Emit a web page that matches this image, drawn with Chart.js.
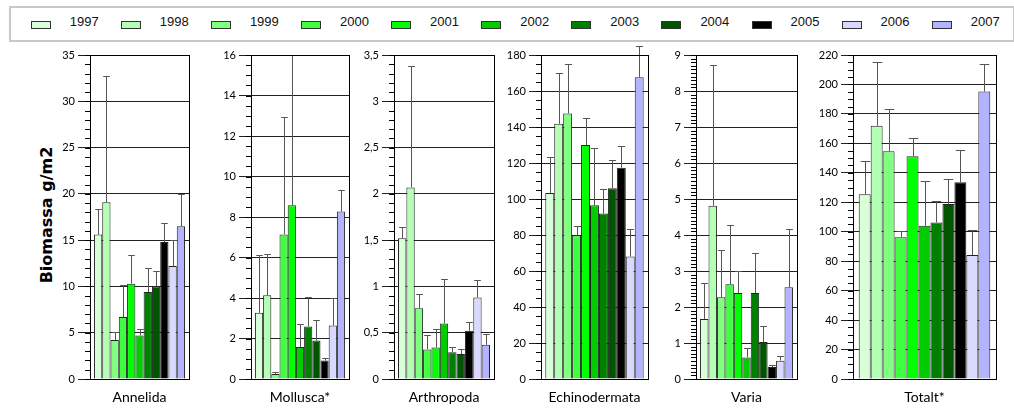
<!DOCTYPE html>
<html>
<head>
<meta charset="utf-8">
<script src="https://cdn.jsdelivr.net/npm/chart.js@4/dist/chart.umd.min.js"></script>
<style>
body { margin: 0; background: #fff; width: 1014px; height: 409px; position: relative; overflow: hidden; }
#legend { position: absolute; left: 9px; top: 6px; width: 1006px; height: 36px; border: 2px solid #c8c8c8; box-sizing: border-box; }
.sw { position: absolute; top: 20px; width: 20px; height: 8px; border: 1px solid #333; box-sizing: border-box; }
.lt { position: absolute; top: 14px; font: 13px "Liberation Sans", Arial, sans-serif; color: #111; line-height: 16px; }
#ytitle { position: absolute; left: 46px; top: 215px; transform: translate(-50%, -50%) rotate(-90deg); font: bold 16px "DejaVu Sans", sans-serif; white-space: nowrap; }
canvas { position: absolute; top: 45px; }
</style>
</head>
<body>
<div id="legend"></div>
<div id="ytitle">Biomassa g/m2</div>
<script>
// years and colours, one dataset per year
const years = ['1997', '1998', '1999', '2000', '2001', '2002', '2003', '2004', '2005', '2006', '2007']
const colors = ['#d9ffd9', '#b3ffb3', '#80ff80', '#40ff40', '#00ff00', '#00cc00', '#008000', '#005500', '#000000', '#d9d9ff', '#b3b3ff']

// groups (one panel each)
const groups = ['Annelida', 'Mollusca*', 'Arthropoda', 'Echinodermata', 'Varia', 'Totalt*']

// means
const annelida = [15.6, 19.1, 4.2, 6.7, 10.3, 4.7, 9.4, 10.0, 14.8, 12.2, 16.5]
const mollusca = [3.27, 4.14, 0.25, 7.14, 8.58, 1.58, 2.59, 1.90, 0.91, 2.64, 8.27]
const arthropoda = [1.52, 2.07, 0.765, 0.32, 0.34, 0.60, 0.29, 0.27, 0.52, 0.88, 0.37]
const echinodermata = [103.4, 141.8, 147.5, 79.8, 130.0, 96.5, 91.9, 106.0, 117.4, 68.1, 167.6]
const varia = [1.67, 4.81, 2.27, 2.63, 2.39, 0.60, 2.39, 1.03, 0.33, 0.51, 2.55]
const totalt = [125.5, 171.9, 154.6, 96.3, 151.2, 104.0, 106.3, 118.9, 133.6, 84.2, 195.2]

// upper end of the error bars
const annelidaHigh = [18.4, 32.7, 5.1, 10.2, 13.4, 5.4, 12.0, 11.7, 16.9, 15.0, 20.0]
const molluscaHigh = [6.14, 6.19, 0.35, 12.95, 16, 2.72, 4.04, 2.89, 1.02, 3.99, 9.31]
const arthropodaHigh = [1.64, 3.38, 0.92, 0.47, 0.54, 1.08, 0.35, 0.32, 0.62, 1.07, 0.49]
const echinodermataHigh = [123.1, 169.8, 175.0, 84.9, 144.9, 128.1, 105.6, 121.8, 129.2, 83.4, 185.2]
const variaHigh = [2.66, 8.72, 3.57, 4.27, 2.99, 0.86, 3.49, 1.47, 0.40, 0.63, 4.17]
const totaltHigh = [147.8, 215.5, 183.4, 100.4, 163.4, 134.7, 121.2, 135.8, 155.7, 101.1, 213.7]

// axis ranges
const yMax = [35, 16, 3.5, 180, 9, 220]
const yStep = [5, 2, 0.5, 20, 1, 20]
const yMinor = [1, 0.5, 0.1, 5, 0.1, 5]

const means = [annelida, mollusca, arthropoda, echinodermata, varia, totalt]
const highs = [annelidaHigh, molluscaHigh, arthropodaHigh, echinodermataHigh, variaHigh, totaltHigh]

// panel layout (plot area, page pixels)
const plotLeft = [90, 251, 394, 541, 696, 853]
const plotRight = [188, 348, 493, 649, 796, 995]
const AXIS_W = 40

// legend
const legend = document.getElementById('legend')
years.forEach((yr, i) => {
	const x = 30.7 + 90.1 * i - 9
	const sw = document.createElement('div')
	sw.className = 'sw'
	sw.style.left = (x - 2) + 'px'
	sw.style.top = '12.5px'
	sw.style.background = colors[i]
	legend.appendChild(sw)
	const t = document.createElement('div')
	t.className = 'lt'
	t.style.left = (x + 37) + 'px'
	t.style.top = '6px'
	t.textContent = yr
	legend.appendChild(t)
})

// error bars (not clipped: they may run past the top of the plot)
const errorBars = {
	id: 'errorBars',
	afterDatasetsDraw(chart) {
		const ctx = chart.ctx
		const y = chart.scales.y
		ctx.save()
		ctx.strokeStyle = '#555'
		ctx.lineWidth = 1
		chart.data.datasets.forEach((ds, i) => {
			const bar = chart.getDatasetMeta(i).data[0]
			const x = Math.round(bar.x) + 0.5
			const top = Math.round(y.getPixelForValue(ds.high)) + 0.5
			const half = bar.width * 0.4
			ctx.beginPath()
			ctx.moveTo(x, bar.y)
			ctx.lineTo(x, top)
			ctx.moveTo(x - half, top)
			ctx.lineTo(x + half, top)
			ctx.stroke()
		})
		ctx.restore()
	}
}

// box round the plot + minor ticks
const frame = {
	id: 'frame',
	afterDraw(chart, args, opts) {
		const ctx = chart.ctx
		const a = chart.chartArea
		const y = chart.scales.y
		ctx.save()
		ctx.strokeStyle = '#000'
		ctx.lineWidth = 1
		ctx.strokeRect(Math.round(a.left) + 0.5, Math.round(a.top) + 0.5, Math.round(a.right - a.left), Math.round(a.bottom - a.top))
		ctx.beginPath()
		const n = Math.round(y.max / opts.minor)
		for (let k = 0; k <= n; k++) {
			const py = Math.round(y.getPixelForValue(k * opts.minor)) + 0.5
			ctx.moveTo(a.left - 5, py)
			ctx.lineTo(a.left, py)
		}
		ctx.stroke()
		ctx.restore()
	}
}

groups.forEach((name, p) => {
	const canvas = document.createElement('canvas')
	const w = plotRight[p] - plotLeft[p] + AXIS_W + 2
	canvas.width = w
	canvas.height = 364
	canvas.style.left = (plotLeft[p] - AXIS_W) + 'px'
	document.body.appendChild(canvas)

	const data = {
		labels: [name],
		datasets: years.map((yr, i) => ({
			label: yr,
			data: [means[p][i]],
			high: highs[p][i],
			backgroundColor: colors[i],
			borderColor: '#222',
			borderWidth: 1,
			barPercentage: 1,
			categoryPercentage: 0.92
		}))
	}
	const config_bar = {
		type: 'bar',
		data: data,
		options: {
			responsive: false,
			animation: false,
			layout: { padding: { top: 10, right: 1, left: 0, bottom: 0 } },
			plugins: {
				legend: { display: false },
				tooltip: { enabled: false },
				frame: { minor: yMinor[p] }
			},
			scales: {
				x: {
					grid: { display: false, drawTicks: false },
					border: { color: '#000' },
					ticks: { font: { family: 'Lato', size: 14 }, color: '#000', padding: 10 },
					afterFit(s) { s.height = 30 }
				},
				y: {
					min: 0,
					max: yMax[p],
					ticks: {
						stepSize: yStep[p],
						font: { family: 'Lato', size: 11 },
						color: '#000',
						padding: 3,
						callback: v => String(v).replace('.', ',')
					},
					grid: { color: '#222', tickLength: 12 },
					border: { color: '#000' },
					afterFit(s) { s.width = AXIS_W }
				}
			}
		},
		plugins: [errorBars, frame]
	}
	new Chart(canvas, config_bar)
})
</script>
</body>
</html>
